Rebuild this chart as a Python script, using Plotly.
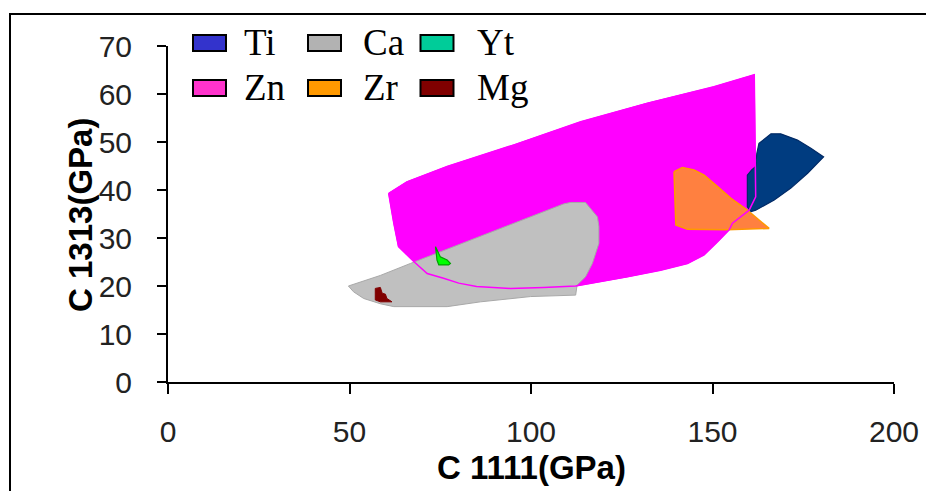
import plotly.graph_objects as go

# ---- data ----
zn_x = [60.8, 65.8, 76.9, 95.3, 113.7, 132.1, 150.4, 161.5, 161.9, 160.1, 155.5, 154.6, 151.4,
        147.7, 143.1, 135.7, 126.5, 117.3, 112.3, 103.5, 94.3, 85.0, 80.1, 75.9, 71.4, 67.7,
        63.5, 62.2, 61.2, 60.8]
zn_y = [39.3, 41.7, 44.9, 49.4, 54.2, 58.1, 61.5, 64.0, 38.6, 35.8, 33.1, 31.7, 29.2,
        26.5, 24.7, 23.3, 21.9, 20.6, 20.0, 19.7, 19.5, 19.9, 20.6, 21.6, 22.6, 25.1,
        28.2, 33.1, 37.9, 39.3]

ca_x = [49.7, 58.5, 66.8, 90.7, 109.0, 110.9, 115.0, 118.3, 118.7, 118.7, 116.9, 115.0, 112.7,
        112.3, 99.9, 86.1, 76.9, 62.2, 58.5, 53.9, 51.1, 49.7]
ca_y = [20.0, 22.2, 24.7, 31.7, 37.1, 37.4, 37.4, 34.4, 32.4, 28.9, 24.7, 21.9, 20.2,
        18.1, 17.8, 16.7, 15.7, 15.7, 16.3, 17.4, 18.8, 20.0]

zr_x = [139.4, 141.7, 144.9, 147.7, 151.4, 155.0, 159.6, 162.8, 165.6, 154.1, 143.1, 139.9, 139.4]
zr_y = [43.8, 44.7, 44.2, 43.1, 40.7, 38.3, 35.8, 33.75, 32.0, 31.7, 31.8, 32.7, 43.8]

ti_x = [160.6, 159.6, 159.6, 160.8, 161.9, 162.2, 162.8, 166.1, 168.8, 173.4, 177.1, 180.6,
        176.2, 171.6, 167.0, 161.9, 160.6]
ti_y = [35.5, 36.5, 43.1, 44.2, 44.9, 47.6, 49.7, 51.7, 51.7, 50.4, 48.7, 46.9,
        43.5, 40.4, 37.9, 35.8, 35.5]

yt_x = [73.7, 75.0, 76.9, 77.8, 77.3, 74.6, 74.1, 73.9, 73.7]
yt_y = [28.2, 26.1, 25.4, 24.7, 24.4, 24.4, 25.4, 27.1, 28.2]

mg_x = [57.1, 58.5, 59.0, 59.9, 60.3, 61.7, 58.5, 57.1, 57.1]
mg_y = [19.5, 19.7, 18.5, 18.3, 17.4, 16.7, 16.7, 17.1, 19.5]

legend_labels = ["Ti", "Ca", "Yt", "Zn", "Zr", "Mg"]
legend_colors = ["#3333CC", "#B2B2B2", "#00CC99", "#FF33CC", "#FF9900", "#800000"]

x_ticks = [0, 50, 100, 150, 200]
y_ticks = [0, 10, 20, 30, 40, 50, 60, 70]
x_title = "C 1111(GPa)"
y_title = "C 1313(GPa)"

# ---- figure ----
W, H = 926, 491
L, R, T, B = 168, 32, 46, 109
PW, PH = W - L - R, H - T - B


def px(xp):
    return (xp - L) / PW


def py(yp):
    return (H - B - yp) / PH


fig = go.Figure()


def region(x, y, fill, line, lw=1.0):
    fig.add_trace(go.Scatter(x=x, y=y, mode="lines", fill="toself", fillcolor=fill,
                             line=dict(color=line, width=lw), showlegend=False,
                             hoverinfo="skip"))


region(zn_x, zn_y, "#FF00FF", "#FF00FF", 1.0)
region(ca_x, ca_y, "#C0C0C0", "#A8A8A8", 1.0)
region(zr_x, zr_y, "#FF8040", "#FF9900", 1.5)
region(ti_x, ti_y, "#003C80", "#002A66", 1.2)
region(yt_x, yt_y, "#00FF00", "#00A000", 1.2)
region(mg_x, mg_y, "#800000", "#800000", 1.0)
# Zn outline drawn on top
fig.add_trace(go.Scatter(x=zn_x, y=zn_y, mode="lines", line=dict(color="#FF00FF", width=1.5),
                         showlegend=False, hoverinfo="skip"))

shapes = []
annotations = []
# outer frame
shapes.append(dict(type="rect", xref="paper", yref="paper",
                   x0=px(10), x1=px(940), y0=py(500), y1=py(14),
                   line=dict(color="#000000", width=2), fillcolor="rgba(0,0,0,0)", layer="below"))

# custom legend (3 columns x 2 rows)
sw_left = [193, 308, 420.5]
txt_left = [242, 361, 475]
row_top = [35, 80]
row_mid = [42.5, 87]
for i, (lab, col) in enumerate(zip(legend_labels, legend_colors)):
    c, r = i % 3, i // 3
    shapes.append(dict(type="rect", xref="paper", yref="paper",
                       x0=px(sw_left[c]), x1=px(sw_left[c] + 33),
                       y0=py(row_top[r] + 16), y1=py(row_top[r]),
                       fillcolor=col, line=dict(color="#000000", width=2)))
    annotations.append(dict(x=px(txt_left[c]), y=py(row_mid[r]), xref="paper", yref="paper",
                            text=lab, showarrow=False, xanchor="left", yanchor="middle",
                            font=dict(family="Liberation Serif, Times New Roman, serif",
                                      size=37, color="#000000")))

title_font = dict(family="Liberation Sans, Arial, sans-serif", size=33, color="#000000",
                  weight="bold")
annotations.append(dict(x=px(531), y=py(467), xref="paper", yref="paper", text=x_title,
                        showarrow=False, xanchor="center", yanchor="middle", font=title_font))
annotations.append(dict(x=px(80), y=py(215), xref="paper", yref="paper", text=y_title,
                        showarrow=False, xanchor="center", yanchor="middle", textangle=-90,
                        font=title_font))

axis_common = dict(showline=True, linecolor="#000000", linewidth=2, ticks="outside",
                   tickcolor="#000000", tickwidth=2, showgrid=False, zeroline=False,
                   automargin=False,
                   tickfont=dict(family="Liberation Sans, Arial, sans-serif", size=30,
                                 color="#222222"))

fig.update_layout(
    width=W, height=H,
    margin=dict(l=L, r=R, t=T, b=B, pad=0, autoexpand=False),
    paper_bgcolor="#FFFFFF", plot_bgcolor="#FFFFFF",
    showlegend=False,
    shapes=shapes, annotations=annotations,
    xaxis=dict(range=[0, 200], tickvals=x_ticks, ticklen=10, ticklabelstandoff=12,
               **axis_common),
    yaxis=dict(range=[0, 70], tickvals=y_ticks, ticklen=9, ticklabelstandoff=19,
               **axis_common),
)

fig.write_html("out.html", config={"displayModeBar": False},
               post_script="document.body.style.margin='0';document.body.style.overflow='hidden';")
